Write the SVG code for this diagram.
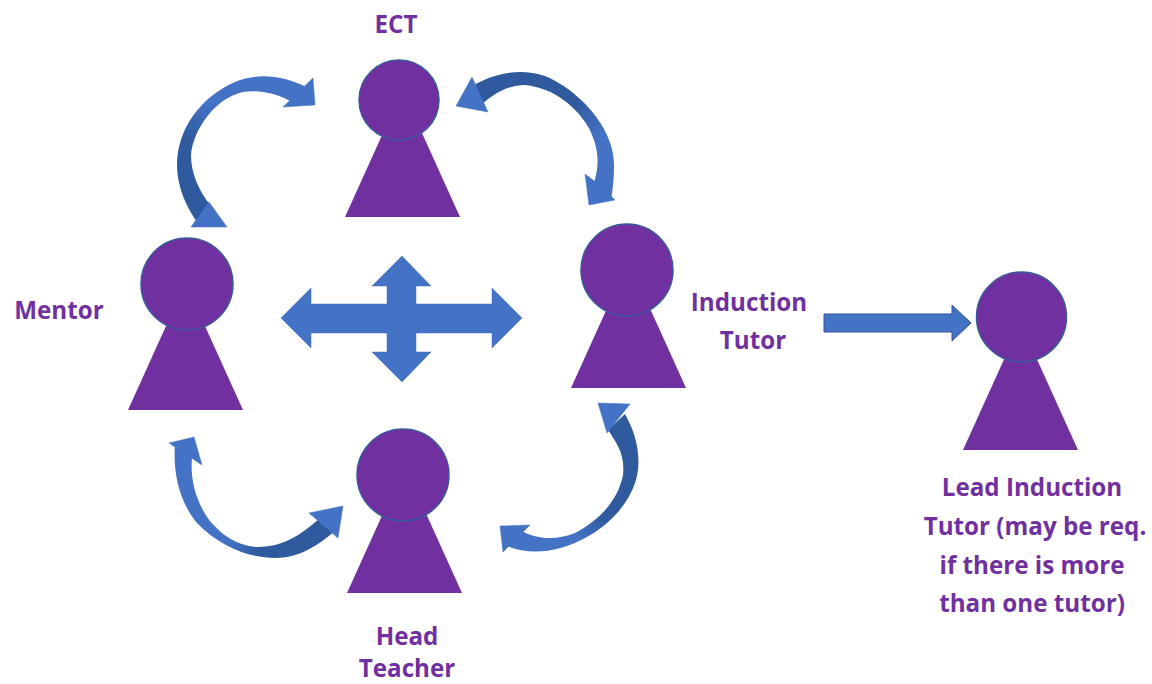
<svg xmlns="http://www.w3.org/2000/svg" width="1152" height="684" viewBox="0 0 1152 684">
<style>
.p{fill:#7030a0}
.c{stroke:#3a5a9c;stroke-width:1.5}
.h{fill:#4472c4;stroke:#4472c4;stroke-width:.5}
.a{fill:#4472c4;stroke:#2f5597;stroke-width:1}
text{font-family:"Open Sans","Noto Sans",sans-serif;font-weight:700;font-size:24.2px;fill:#7030a0;text-anchor:middle}
</style>
<defs>
<linearGradient id="g1" gradientUnits="userSpaceOnUse" x1="305" y1="90" x2="195" y2="215"><stop offset="0" stop-color="#4472c4"/><stop offset=".45" stop-color="#4472c4"/><stop offset=".7" stop-color="#2f5a9e"/><stop offset="1" stop-color="#2f5a9e"/></linearGradient>
<linearGradient id="g2" gradientUnits="userSpaceOnUse" x1="480" y1="90" x2="605" y2="195"><stop offset="0" stop-color="#2f5a9e"/><stop offset=".5" stop-color="#2f5a9e"/><stop offset=".75" stop-color="#4472c4"/><stop offset="1" stop-color="#4472c4"/></linearGradient>
<linearGradient id="g3" gradientUnits="userSpaceOnUse" x1="180" y1="450" x2="330" y2="530"><stop offset="0" stop-color="#4472c4"/><stop offset=".5" stop-color="#4472c4"/><stop offset=".7" stop-color="#2f5a9e"/><stop offset="1" stop-color="#2f5a9e"/></linearGradient>
<linearGradient id="g4" gradientUnits="userSpaceOnUse" x1="615" y1="425" x2="515" y2="545"><stop offset="0" stop-color="#2f5a9e"/><stop offset=".5" stop-color="#2f5a9e"/><stop offset=".7" stop-color="#4472c4"/><stop offset="1" stop-color="#4472c4"/></linearGradient>
</defs>
<g id="connectors">
<path fill="url(#g1)" d="M308,88C285,76 258,72 235,82C200,97 177,130 177,165C177,185 185,205 197,222L211,206C198,190 191,172 191,155C193,130 215,98 243,92C262,89 280,95 292,102Z"/>
<path class="h" d="M313,78L315,105L283,107Z"/>
<path class="h" d="M209,202L227,227L191,227Z"/>
<path fill="url(#g2)" d="M474,85C495,73 520,68 545,76C575,88 614,125 614,165C614,178 613,188 611,200L593,186C600,165 599,150 590,130C578,108 555,88 525,85C510,85 495,92 480,106Z"/>
<path class="h" d="M472,77L488,112L456,106Z"/>
<path class="h" d="M585,174L597,183L615,200L589,205Z"/>
<path fill="url(#g3)" d="M175,444C173,470 178,500 197,523C220,547 250,558 275,558C300,558 318,545 335,531L322,516C305,532 285,547 258,547C235,546 218,532 207,517C196,500 190,480 192,458Z"/>
<path class="h" d="M169,443L194,437L202,465Z"/>
<path class="h" d="M309,513L343,506L338,538Z"/>
<path fill="url(#g4)" d="M625,414C635,432 640,450 638,470C634,500 610,525 585,538C560,552 530,556 507,546L520,530C535,539 555,541 575,533C600,520 618,500 623,475C625,455 618,445 608,430Z"/>
<path class="h" d="M598,403L630,404L607,433Z"/>
<path class="h" d="M500,526L530,525L503,552Z"/>
<path class="h" d="M281,318L311,288V304H387V286H372L402,256L431,286H416V304H492V288L522,318L492,348V333H416V352H431L402,382L372,352H387V333H311V348Z"/>
<path class="a" d="M824,314H952V305L971,323L952,341V332H824Z"/>
</g>
<g id="ect"><path class="p" d="M402.500,90L460,217H345Z"/><circle class="p c" cx="399" cy="100" r="40"/><text x="396" y="33">ECT</text></g>
<g id="mentor"><path class="p" d="M185.500,283L243,410H128Z"/><circle class="p c" cx="187" cy="284" r="46"/><text x="59" y="319">Mentor</text></g>
<g id="induction-tutor"><path class="p" d="M628.500,261L686,388H571Z"/><circle class="p c" cx="627" cy="270" r="46"/><text x="749" y="311">Induction</text><text x="753" y="349">Tutor</text></g>
<g id="head-teacher"><path class="p" d="M404.500,466L462,593H347Z"/><circle class="p c" cx="403" cy="475" r="46"/><text x="407" y="645">Head</text><text x="407" y="677">Teacher</text></g>
<g id="lead-induction-tutor"><path class="p" d="M1020.500,323L1078,450H963Z"/><circle class="p c" cx="1021.500" cy="317" r="45"/><text x="1032" y="496">Lead Induction</text><text x="1035" y="535">Tutor (may be req.</text><text x="1032" y="574">if there is more</text><text x="1032" y="612">than one tutor)</text></g>
</svg>
